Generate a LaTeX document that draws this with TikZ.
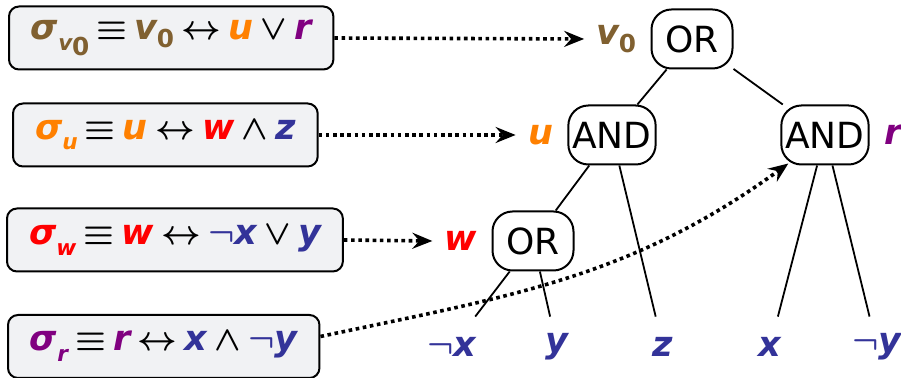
\documentclass[tikz,border=0pt]{standalone}
\usepackage{fontspec}
\setmainfont{DejaVu Sans}
\newfontfamily\varfont{DejaVu Sans}[Scale=1.03]
\usetikzlibrary{positioning,arrows.meta}

\definecolor{vbrown}{RGB}{128,96,48}
\definecolor{uorange}{RGB}{255,128,0}
\definecolor{wred}{RGB}{255,0,0}
\definecolor{leafblue}{RGB}{51,51,153}
\definecolor{rpurple}{RGB}{128,0,128}
\definecolor{boxgray}{RGB}{241,242,244}

% bold slanted variable in a colour
\newcommand{\var}[2]{\textcolor{#1}{\varfont\bfseries\itshape #2}}
\newcommand{\vzero}{\textcolor{vbrown}{\varfont\bfseries\textit{v}\kern-0.04em\raisebox{-0.22em}{\fontsize{12}{12}\selectfont 0}}}
\newcommand{\lowsub}[1]{\raisebox{-0.32em}{\fontsize{10.5}{11}\selectfont #1}}
\newcommand{\bsym}[1]{{\boldmath$#1$}}
\newcommand{\formulafont}{\fontsize{17}{21}\selectfont\spaceskip=3.6pt plus 1pt\relax}

\tikzset{
  formula/.style={draw, line width=1pt, rounded corners=5pt, fill=boxgray,
    anchor=west, minimum height=31.5pt, inner xsep=11pt, font=\formulafont},
  gate/.style={draw, line width=1pt, rounded corners=10pt, minimum width=40.5pt,
    minimum height=29.5pt, inner xsep=2pt, font=\fontsize{18}{22}\selectfont},
  leaf/.style={inner sep=0pt, minimum height=30pt, text=leafblue},
  lbl/.style={inner xsep=6pt, inner ysep=0pt},
  edge/.style={line width=0.9pt},
  dotarrow/.style={line width=1.8pt, dash pattern=on 1.8pt off 1.8pt,
    -{Stealth[length=10pt, width=8pt, inset=3.5pt]}}
}

\begin{document}
\begin{tikzpicture}[x=0.5pt, y=-0.5pt, node distance=1pt,
    every node/.style={font=\fontsize{17}{21}\selectfont}]
  \useasboundingbox (0,0) rectangle (901,378);

  % Formula boxes
  \node[formula] (b1) at (8,38)
    {\var{vbrown}{σ}\lowsub{\vzero} \bsym{\equiv} \vzero{} \bsym{\leftrightarrow} \var{uorange}{u} \bsym{\lor} \var{rpurple}{r}};
  \node[formula] (b2) at (12,135)
    {\var{uorange}{σ}\lowsub{\var{uorange}{u}} \bsym{\equiv} \var{uorange}{u} \bsym{\leftrightarrow} \var{wred}{w} \bsym{\land} \var{leafblue}{z}};
  \node[formula] (b3) at (6,240)
    {\var{wred}{σ}\lowsub{\var{wred}{w}} \bsym{\equiv} \var{wred}{w} \bsym{\leftrightarrow} \textcolor{leafblue}{\bsym{\neg}}\var{leafblue}{x} \bsym{\lor} \var{leafblue}{y}};
  \node[formula] (b4) at (7,346.5)
    {\var{rpurple}{σ}\lowsub{\var{rpurple}{r}} \bsym{\equiv} \var{rpurple}{r} \bsym{\leftrightarrow} \var{leafblue}{x} \bsym{\land} \textcolor{leafblue}{\bsym{\neg}}\var{leafblue}{y}};

  % Circuit tree
  \node[gate] (or1) at (692,39) {OR};
  \node[gate] (and1) at (612,135) {AND};
  \node[gate] (and2) at (825,135) {AND};
  \node[gate] (or2) at (533,241) {OR};

  \node[leaf] (lnx) at (452,347) {\bsym{\neg}\var{leafblue}{x}};
  \node[leaf] (ly) at (557,347) {\var{leafblue}{y}};
  \node[leaf] (lz) at (663,347) {\var{leafblue}{z}};
  \node[leaf] (lx) at (770,347) {\var{leafblue}{x}};
  \node[leaf] (lny) at (877,347) {\bsym{\neg}\var{leafblue}{y}};

  \draw[edge] (or1) -- (and1);
  \draw[edge] (or1) -- (and2);
  \draw[edge] (and1) -- (or2);
  \draw[edge] (and1) -- (lz);
  \draw[edge] (or2) -- (lnx);
  \draw[edge] (or2) -- (ly);
  \draw[edge] (and2) -- (lx);
  \draw[edge] (and2) -- (lny);

  % Gate labels
  \node[lbl, left=of or1] (lv0) {\vzero};
  \node[lbl, left=of and1] (lu) {\var{uorange}{u}};
  \node[lbl, left=of or2] (lw) {\var{wred}{w}};
  \node[lbl, right=of and2] (lr) {\var{rpurple}{r}};

  % Links from formulas to gates
  \draw[dotarrow] (b1.east) -- (lv0.west);
  \draw[dotarrow] (b2.east) -- (lu.west);
  \draw[dotarrow] (b3.east) -- (lw.west);
  \draw[dotarrow] ([yshift=5pt]b4.east) to[out=12, in=216] ([xshift=4pt,yshift=1pt]and2.south west);
\end{tikzpicture}
\end{document}
